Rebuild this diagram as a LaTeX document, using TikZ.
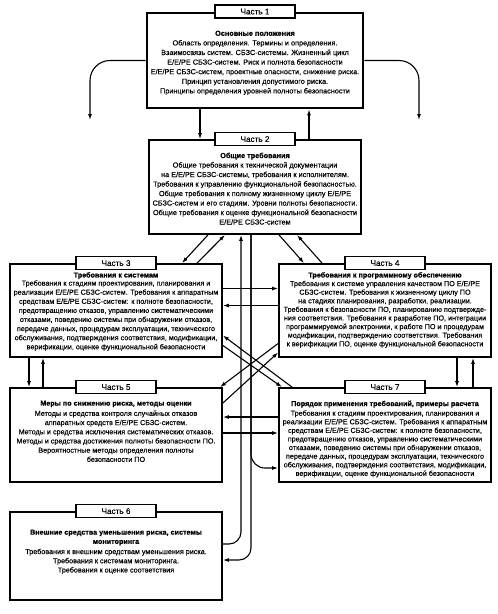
\documentclass[tikz,border=0pt]{standalone}
\usepackage{fontspec}
\setmainfont{Liberation Sans}[UprightFeatures={FakeBold=0.2}, BoldFeatures={FakeBold=0.6}]
\usetikzlibrary{arrows.meta}

\begin{document}
\begin{tikzpicture}[x=1pt, y=-1pt,
    part/.style={draw, line width=1.8pt, minimum width=212pt, minimum height=94pt, inner sep=0pt},
    tag/.style={draw, line width=1.5pt, fill=white, minimum width=80pt, minimum height=13pt, inner sep=0pt, font=\fontsize{8.2}{9}\selectfont},
    body/.style={align=center, inner sep=0pt, anchor=north},
    conn/.style={-{Latex[length=6pt,width=4pt]}, line width=1.1pt}]
    \useasboundingbox (0,0) rectangle (498,614);

    % Part 1
    \node[part, line width=2.8pt, minimum width=216pt, minimum height=95pt] (p1) at (255,60.5) {};
    \node[tag] (c1) at (p1.north) {Часть 1};
    \node[body, font=\fontsize{7.3}{9.6}\selectfont] (t1) at (255,30.5) {\textbf{Основные положения}\\
        Область определения. Термины и определения.\\
        Взаимосвязь систем. СБЗС-системы. Жизненный цикл\\
        Е/Е/РЕ СБЗС-систем. Риск и полнота безопасности\\
        Е/Е/РЕ СБЗС-систем, проектные опасности, снижение риска.\\
        Принцип установления допустимого риска.\\
        Принципы определения уровней полноты безопасности};

    % Part 2
    \node[part] (p2) at (255,187) {};
    \node[tag] (c2) at (p2.north) {Часть 2};
    \node[body, font=\fontsize{7.3}{9.5}\selectfont] (t2) at (255,152.5) {\textbf{Общие требования}\\
        Общие требования к технической документации\\
        на Е/Е/РЕ СБЗС-системы, требования к исполнителям.\\
        Требования к управлению функциональной безопасностью.\\
        Общие требования к полному жизненному циклу Е/Е/РЕ\\
        СБЗС-систем и его стадиям. Уровни полноты безопасности.\\
        Общие требования к оценке функциональной безопасности\\
        Е/Е/РЕ СБЗС-систем};

    % Part 3
    \node[part, minimum height=93pt] (p3) at (116,310.5) {};
    \node[tag] (c3) at (p3.north) {Часть 3};
    \node[body, font=\fontsize{7.2}{9.1}\selectfont] (t3) at (116,272) {\textbf{Требования к системам}\\[-1pt]
        Требования к стадиям проектирования, планирования и\\
        реализации Е/Е/РЕ СБЗС-систем. Требования к аппаратным\\
        средствам Е/Е/РЕ СБЗС-систем: к полноте безопасности,\\
        предотвращению отказов, управлению систематическими\\
        отказами, поведению системы при обнаружении отказов,\\
        передаче данных, процедурам эксплуатации, технического\\
        обслуживания, подтверждения соответствия, модификации,\\
        верификации, оценке функциональной безопасности};

    % Part 4
    \node[part, minimum height=93pt] (p4) at (385,310.5) {};
    \node[tag] (c4) at (p4.north) {Часть 4};
    \node[body, font=\fontsize{7.2}{8.6}\selectfont] (t4) at (385,272) {\textbf{Требования к программному обеспечению}\\
        Требования к системе управления качеством ПО Е/Е/РЕ\\
        СБЗС-систем. Требования к жизненному циклу ПО\\
        на стадиях планирования, разработки, реализации.\\
        Требования к безопасности ПО, планированию подтвержде-\\
        ния соответствия. Требования к разработке ПО, интеграции\\
        программируемой электроники, к работе ПО и процедурам\\
        модификации, подтверждению соответствия. Требования\\
        к верификации ПО, оценке функциональной безопасности};

    % Part 5
    \node[part] (p5) at (116,435) {};
    \node[tag] (c5) at (p5.north) {Часть 5};
    \node[body, font=\fontsize{7.2}{9.2}\selectfont] (t5) at (116,400.5) {\textbf{Меры по снижению риска, методы оценки}\\[1pt]
        Методы и средства контроля случайных отказов\\
        аппаратных средств Е/Е/РЕ СБЗС-систем.\\
        Методы и средства исключения систематических отказов.\\
        Методы и средства достижения полноты безопасности ПО.\\
        Вероятностные методы определения полноты\\
        безопасности ПО};

    % Part 7
    \node[part] (p7) at (385,435) {};
    \node[tag] (c7) at (p7.north) {Часть 7};
    \node[body, font=\fontsize{7.2}{8.6}\selectfont] (t7) at (385,400.5) {\textbf{Порядок применения требований, примеры расчета}\\[1pt]
        Требования к стадиям проектирования, планирования и\\
        реализации Е/Е/РЕ СБЗС-систем. Требования к аппаратным\\
        средствам Е/Е/РЕ СБЗС-систем: к полноте безопасности,\\
        предотвращению отказов, управлению систематическими\\
        отказами, поведению системы при обнаружении отказов,\\
        передаче данных, процедурам эксплуатации, технического\\
        обслуживания, подтверждения соответствия, модификации,\\
        верификации, оценке функциональной безопасности};

    % Part 6
    \node[part, minimum height=88pt] (p6) at (116,556) {};
    \node[tag] (c6) at (p6.north) {Часть 6};
    \node[body, font=\fontsize{7.2}{9.2}\selectfont] (t6) at (116,529.5) {\textbf{Внешние средства уменьшения риска, системы}\\
        \textbf{мониторинга}\\[1pt]
        Требования к внешним средствам уменьшения риска.\\
        Требования к системам мониторинга.\\
        Требования к оценке соответствия};

    % links from part 1
    \coordinate (o1) at (90,120);
    \coordinate (o2) at (419,120);
    \draw[conn, rounded corners=20pt] (p1.west) -| (o1);
    \draw[conn, rounded corners=20pt] (p1.east) -| (o2);
    \draw[conn] ([xshift=-55pt]p1.south) -- ([xshift=-55pt]p2.north);
    \draw[conn] ([xshift=54pt]p2.north) -- ([xshift=54pt]p1.south);

    % part 2 to parts 3 and 4
    \draw[conn] ([xshift=-47pt]p2.south) -- ([xshift=66pt]p3.north);
    \draw[conn] ([xshift=81pt]p3.north) -- ([xshift=-30pt]p2.south);
    \draw[conn] ([xshift=24pt]p2.south) -- ([xshift=-81pt]p4.north);
    \draw[conn] ([xshift=-63pt]p4.north) -- ([xshift=42pt]p2.south);

    % part 2 to parts 6 and 7
    \draw[conn, rounded corners=12pt] ([yshift=12pt]p6.east) -| ([xshift=-14pt]p2.south);
    \draw[conn, rounded corners=12pt] ([xshift=-4pt]p2.south) |- ([yshift=-4pt]p6.east);
    \draw[conn, rounded corners=14pt] ([xshift=-4pt]p2.south) |- ([yshift=-33pt]p7.west);

    % parts 3, 4, 5, 7
    \draw[conn] ([yshift=22pt]p3.east) -- ([yshift=22pt]p4.west);
    \draw[conn] ([yshift=5pt]p4.west) -- ([yshift=5pt]p3.east);
    \draw[conn] ([xshift=-87pt]p3.south) -- ([xshift=-87pt]p5.north);
    \draw[conn] ([xshift=-73pt]p5.north) -- ([xshift=-73pt]p3.south);
    \draw[conn] ([xshift=72pt]p4.south) -- ([xshift=72pt]p7.north);
    \draw[conn] ([xshift=88pt]p7.north) -- ([xshift=88pt]p4.south);
    \draw[conn] ([yshift=18pt]p7.west) -- ([yshift=18pt]p5.east);
    \draw[conn] ([yshift=2pt]p5.east) -- ([yshift=2pt]p7.west);

    % crossing links
    \draw[conn] ([xshift=-93pt]p7.north) -- ([yshift=-25pt]p3.east);
    \draw[conn] ([yshift=-35pt]p3.east) -- ([xshift=-103pt]p7.north);
    \draw[conn] ([yshift=-33pt]p4.west) -- ([xshift=104pt]p5.north);
    \draw[conn] ([yshift=32pt]p5.east) -- ([yshift=-42pt]p4.west);
\end{tikzpicture}
\end{document}
